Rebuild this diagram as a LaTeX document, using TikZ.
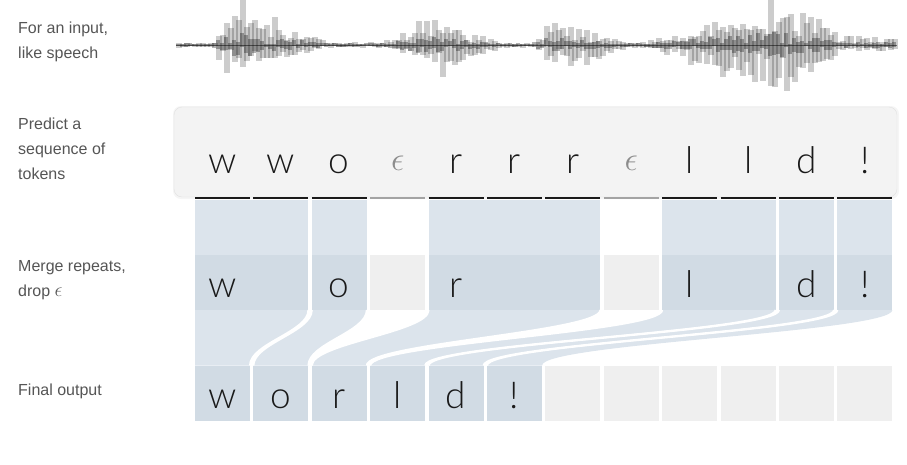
\documentclass[tikz,border=0pt]{standalone}
\usepackage{fontspec}
\setmainfont{Liberation Sans}
\newfontfamily\tkfont{Lato Light}
\definecolor{bandL}{HTML}{DCE4EC}
\definecolor{bandD}{HTML}{D1DBE4}
\definecolor{cellG}{HTML}{EFEFEF}
\definecolor{boxF}{HTML}{F3F3F3}
\definecolor{boxB}{HTML}{E1E1E1}
\definecolor{lblc}{HTML}{555555}
\definecolor{tokc}{HTML}{1A1A1A}
\definecolor{epsc}{HTML}{8C8C8C}
\pgfmathdeclarefunction{envu}{1}{\pgfmathparse{3
  +43*max(0,min((#1-208)/25,(325-#1)/85))
  +27*max(0,min((#1-380)/40,(497-#1)/70))
  +25*max(0,min((#1-528)/20,(625-#1)/75))
  +15*max(0,min((#1-640)/40,(880-#1)/60))
  +25*max(0,min((#1-745)/30,(835-#1)/60))
  +3*max(0,min((#1-860)/10,(910-#1)/10))}}
\pgfmathdeclarefunction{envd}{1}{\pgfmathparse{3
  +30*max(0,min((#1-210)/15,(320-#1)/95))
  +27*max(0,min((#1-385)/50,(497-#1)/50))
  +30*max(0,min((#1-528)/30,(625-#1)/65))
  +16*max(0,min((#1-640)/40,(880-#1)/60))
  +27*max(0,min((#1-740)/30,(830-#1)/60))
  +3*max(0,min((#1-860)/10,(910-#1)/10))}}
\tikzset{
  lbl/.style={anchor=west, align=left, text=lblc, font=\fontsize{16}{25}\selectfont, inner sep=0},
  tk/.style={anchor=base, text=tokc, font=\tkfont\fontsize{37}{37}\selectfont, inner sep=0},
  ep/.style={anchor=base, text=epsc, font=\fontsize{24.88}{30}\selectfont, inner sep=0},
  cell/.style={rectangle, inner sep=0, outer sep=0, minimum height=55},
  mcell/.style={cell, fill=bandD},
  gcell/.style={cell, fill=cellG},
  band/.style={fill=bandL},
  sep/.style={draw=white, line width=2},
  ul/.style={line width=2.5, draw=tokc},
  ulg/.style={line width=2.5, draw=epsc!80},
  wbar/.style={fill=black, opacity=.2},
  wcore/.style={fill=black, opacity=.3},
}
\begin{document}
\begin{tikzpicture}[x=1pt,y=-1pt]
\useasboundingbox (0,0) rectangle (907,464);

% ---- waveform ----
\pgfmathsetseed{5}
\draw[black!50, line width=1] (176,45) -- (897,45);
\foreach \i in {0,...,89} {
  \pgfmathsetmacro\x{176+8*\i}
  \pgfmathsetmacro\eu{envu(\x)}
  \pgfmathsetmacro\ed{envd(\x)}
  \pgfmathsetmacro\u{\eu*(0.3+0.7*rnd)}
  \pgfmathsetmacro\d{\ed*(0.3+0.7*rnd)}
  \fill[wbar] (\x,45-\u) rectangle (\x+6,45+\d);
  \pgfmathsetmacro\u{\eu*(0.15+0.6*rnd)}
  \pgfmathsetmacro\d{\ed*(0.15+0.6*rnd)}
  \fill[wbar] (\x+4,45-\u) rectangle (\x+10,45+\d);
}
\foreach \i in {0,...,179} {
  \pgfmathsetmacro\x{176+4*\i}
  \pgfmathsetmacro\eu{envu(\x)}
  \pgfmathsetmacro\u{0.25*\eu*rnd+1}
  \pgfmathsetmacro\d{0.25*\eu*rnd+1}
  \fill[wcore] (\x,45-\u) rectangle (\x+4,45+\d);
}

% ---- left labels ----
\node[lbl] (l1) at (18,41.5) {For an input,\\like speech};
\node[lbl] (l2) at (18,149) {Predict a\\sequence of\\tokens};
\node[lbl] (l3) at (18,280) {Merge repeats,\\drop \scalebox{1.15}{$\epsilon$}};
\node[lbl] (l4) at (18,391) {Final output};

% ---- token box ----
\fill[black, opacity=.04, rounded corners=8] (173,106) rectangle (899,199);
\draw[fill=boxF, draw=boxB, rounded corners=8] (174,107) rectangle (897,197);

\foreach \i/\t in {0/w,1/w,2/o,4/r,5/r,6/r,8/l,9/l,10/d,11/!} {
  \pgfmathsetmacro\cx{222.5+58.4*\i}
  \node[tk] (t\i) at (\cx,173) {\t};
  \draw[ul] (\cx-27.5,198) -- (\cx+27.5,198);
}
\foreach \i in {3,7} {
  \pgfmathsetmacro\cx{222.5+58.4*\i}
  \node[ep] (t\i) at (\cx,170) {\scalebox{1.35}{$\epsilon$}};
  \draw[ulg] (\cx-27.5,198) -- (\cx+27.5,198);
}

% ---- merge groups ----
\foreach \n/\a/\b in {mW/0/1, mO/2/2, mR/4/6, mL/8/9, mD/10/10, mX/11/11} {
  \pgfmathsetmacro\xa{195+58.4*\a}
  \pgfmathsetmacro\xb{195+58.4*\b+55}
  \pgfmathsetmacro\gw{\xb-\xa}
  \fill[band] (\xa,199.5) rectangle (\xb,255);
  \node[mcell, minimum width=\gw] (\n) at ({(\xa+\xb)/2},282.5) {};
}
\foreach \n/\a in {mE1/3, mE2/7} {
  \pgfmathsetmacro\cx{222.5+58.4*\a}
  \node[gcell, minimum width=55] (\n) at (\cx,282.5) {};
}
\foreach \i/\t in {0/w,2/o,4/r,8/l,10/d,11/!} {
  \pgfmathsetmacro\cx{222.5+58.4*\i}
  \node[tk] (mt\i) at (\cx,297) {\t};
}

% ---- final row ----
\foreach \i in {0,...,11} {
  \pgfmathsetmacro\cx{222.5+58.4*\i}
  \ifnum\i<6
    \node[mcell, minimum width=55] (f\i) at (\cx,393) {};
  \else
    \node[gcell, minimum width=55] (f\i) at (\cx,393) {};
  \fi
}
\foreach \i/\t in {0/w,1/o,2/r,3/l,4/d,5/!} {
  \node[tk] (ft\i) at ([yshift=-15]f\i.center) {\t};
}

% ---- flow bands ----
\foreach \m/\f in {mW/f0, mO/f1, mR/f2, mL/f3, mD/f4, mX/f5} {
  \fill[band] (\m.south west) .. controls +(0,22) and +(0,-22) .. (\f.north west)
     -- (\f.north east) .. controls +(0,-22) and +(0,22) .. (\m.south east) -- cycle;
}
\foreach \m/\f in {mO/f1, mR/f2, mL/f3, mD/f4, mX/f5} {
  \draw[sep] (\m.south west) .. controls +(0,22) and +(0,-22) .. (\f.north west);
}
\foreach \m/\f in {mW/f0, mO/f1, mR/f2, mL/f3, mD/f4} {
  \draw[sep] (\m.south east) .. controls +(0,22) and +(0,-22) .. (\f.north east);
}
\end{tikzpicture}
\end{document}
